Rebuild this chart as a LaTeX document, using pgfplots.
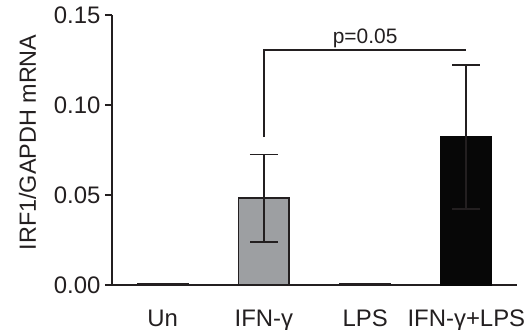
\documentclass[border=0pt]{standalone}
\usepackage{pgfplots}
\pgfplotsset{compat=1.18}
\usepackage{fontspec}
\setmainfont{Liberation Sans}
\definecolor{barGray}{HTML}{9D9FA2}
\definecolor{barBlack}{HTML}{070707}
\definecolor{lineK}{HTML}{231F20}
\begin{document}
\begin{tikzpicture}
\begin{axis}[
  scale only axis, width=405bp, height=270bp,
  xmin=-0.5, xmax=3.5, ymin=0, ymax=0.15,
  axis x line=bottom, axis y line=left,
  axis line style={line width=1.8pt, -, lineK},
  xtick={0,1,2,3},
  xticklabels={Un, IFN-γ, LPS, IFN-γ+LPS},
  major x tick style={draw=none},
  ytick={0,0.05,0.1,0.15},
  yticklabel style={xshift=-1bp, /pgf/number format/.cd, fixed, fixed zerofill, precision=2},
  /pgf/number format/assume math mode=true,
  tick align=outside,
  major y tick style={line width=1.8pt, lineK},
  major tick length=7bp,
  ticklabel style={font=\fontsize{24}{28}\selectfont, text=lineK},
  xticklabel style={anchor=base, yshift=-34bp},
  ylabel={IRF1/GAPDH mRNA},
  ylabel style={font=\fontsize{23.5}{28}\selectfont, text=lineK,
    at={(axis description cs:-0.188,0.528)}, anchor=base, inner sep=0pt},
  clip=false,
]
\addplot[ybar, bar width=0.5, fill=barGray, draw=lineK, line width=1.4pt,
  error bars/.cd, y dir=both, y explicit,
  error bar style={line width=2pt, lineK},
  error mark options={line width=2pt, mark size=14bp, lineK, rotate=90}]
  coordinates {(1,0.0483) +- (0,0.0242)};
\addplot[ybar, bar width=0.5, fill=barBlack, draw=barBlack, line width=1.4pt,
  error bars/.cd, y dir=both, y explicit,
  error bar style={line width=2pt, lineK},
  error mark options={line width=2pt, mark size=14bp, lineK, rotate=90}]
  coordinates {(3,0.0822) +- (0,0.0400)};
\addplot[ybar, bar width=0.5, fill=lineK, draw=lineK, line width=0.8pt]
  coordinates {(0,0.0008) (2,0.0010)};
\draw[line width=1.4pt, lineK] (axis cs:1,0.0822) -- (axis cs:1,0.1306) -- (axis cs:3,0.1306);
\node[anchor=base, font=\fontsize{21}{24}\selectfont, text=lineK] at (axis cs:2,0.1339) {p=0.05};
\end{axis}
\pgfresetboundingbox
\path[use as bounding box] ([shift={(-112bp,-45bp)}]current axis.south west) rectangle ([shift={(13bp,15bp)}]current axis.north east);
\end{tikzpicture}
\end{document}
